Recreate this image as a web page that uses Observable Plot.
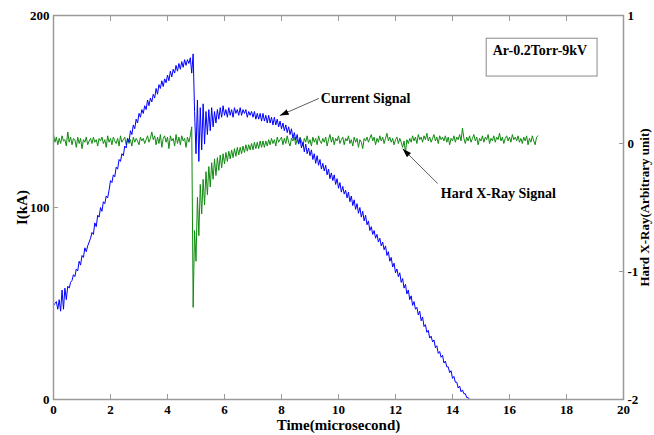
<!DOCTYPE html>
<html><head><meta charset="utf-8">
<script src="https://cdn.jsdelivr.net/npm/d3@7"></script>
<script src="https://cdn.jsdelivr.net/npm/@observablehq/plot@0.6"></script>
<style>body{margin:0;background:#fff}</style>
</head><body><div id="chart"></div>
<script>
// sampling step of both signals (microseconds)
const dt = 0.05;
const xTicks = [0, 2, 4, 6, 8, 10, 12, 14, 16, 18, 20];
const leftTicks = [0, 100, 200];
const rightTicks = [-2, -1, 0, 1];
const boxLabel = "Ar-0.2Torr-9kV";
const currentLabel = "Current Signal";
const xrayLabel = "Hard X-Ray Signal";

// Current signal I (kA), one row = 0.5 microsecond
const currentKA = [
  49, 50, 51, 47, 52, 46, 57, 47, 58, 52,
  59, 58, 61, 62, 65, 64, 68, 67, 72, 70,
  75, 74, 79, 77, 80, 82, 84, 87, 86, 92,
  90, 96, 95, 100, 98, 103, 102, 106, 105, 109,
  114, 113, 117, 116, 121, 120, 125, 124, 128, 127,
  132, 131, 136, 134, 140, 138, 143, 141, 146, 144,
  149, 147, 151, 149, 153, 151, 156, 153, 157, 155,
  159, 157, 162, 159, 164, 162, 166, 163, 167, 165,
  169, 166, 171, 168, 172, 170, 174, 171, 175, 172,
  176, 173, 177, 174, 177, 175, 178, 170, 180, 150,
  128, 156, 124, 152, 130, 154, 133, 150, 138, 151,
  140, 152, 142, 150, 144, 151, 146, 152, 147, 153,
  148, 151, 147, 152, 148, 151, 147, 152, 149, 151,
  148, 152, 148, 151, 149, 151, 147, 150, 148, 150,
  147, 150, 146, 149, 146, 149, 145, 149, 145, 148,
  144, 148, 144, 147, 143, 147, 143, 146, 142, 145,
  141, 144, 140, 143, 139, 142, 138, 141, 136, 139,
  135, 138, 133, 136, 131, 134, 129, 133, 128, 131,
  127, 130, 125, 128, 123, 127, 122, 125, 120, 123,
  119, 122, 117, 120, 115, 118, 114, 117, 112, 115,
  110, 113, 108, 111, 107, 109, 105, 108, 103, 106,
  101, 104, 99, 102, 97, 100, 95, 98, 93, 96,
  91, 93, 88, 90, 86, 88, 84, 86, 82, 84,
  80, 82, 78, 80, 75, 77, 72, 74, 69, 71,
  66, 68, 64, 66, 61, 63, 58, 60, 55, 57,
  52, 54, 49, 51, 47, 48, 44, 46, 41, 43,
  38, 39, 35, 36, 32, 33, 30, 31, 27, 28,
  24, 25, 22, 23, 19, 20, 17, 17, 14, 15,
  11, 12, 9, 9, 6, 7, 4, 5, 3, 3,
  1, 1, 0
];

// Hard X-ray signal (arbitrary unit), one row = 0.5 microsecond
const hardXRay = [
  0.07, 0.01, 0.05, -0.01, 0.04, 0.00, 0.06, 0.02, 0.03, -0.02,
  0.09, 0.01, 0.05, -0.01, 0.04, 0.03, -0.03, 0.05, 0.00, 0.04,
  -0.04, 0.03, 0.01, 0.05, -0.01, 0.02, 0.04, 0.00, 0.05, 0.01,
  0.03, -0.02, 0.04, 0.02, 0.05, 0.00, 0.03, -0.03, 0.06, 0.01,
  0.04, -0.01, 0.05, 0.02, 0.00, 0.04, -0.02, 0.06, 0.01, 0.03,
  0.05, -0.01, 0.04, 0.00, 0.03, -0.02, 0.05, 0.01, 0.04, 0.02,
  -0.01, 0.05, 0.02, 0.04, 0.00, 0.03, 0.06, 0.01, 0.04, 0.09,
  0.03, 0.06, -0.01, 0.05, 0.00, 0.07, -0.03, 0.04, 0.06, 0.01,
  0.05, -0.04, 0.06, 0.02, 0.04, -0.02, 0.07, 0.00, 0.05, -0.01,
  0.06, 0.02, 0.04, -0.03, 0.05, 0.01, 0.06, 0.13, -1.28, -0.68,
  -0.92, -0.42, -0.72, -0.32, -0.55, -0.28, -0.48, -0.22, -0.40, -0.18,
  -0.34, -0.15, -0.28, -0.12, -0.25, -0.11, -0.21, -0.09, -0.19, -0.08,
  -0.16, -0.07, -0.14, -0.06, -0.12, -0.05, -0.11, -0.04, -0.10, -0.03,
  -0.09, -0.03, -0.08, -0.02, -0.07, -0.01, -0.06, -0.01, -0.05, 0.00,
  -0.05, 0.01, -0.04, 0.01, -0.04, 0.02, -0.03, 0.02, -0.03, 0.02,
  -0.02, 0.03, -0.01, 0.04, 0.00, 0.03, -0.02, 0.05, 0.01, 0.03,
  0.05, -0.01, 0.04, 0.00, 0.06, 0.01, -0.02, 0.04, 0.02, 0.05,
  -0.01, 0.03, 0.00, 0.05, 0.02, -0.02, 0.04, 0.01, 0.06, 0.00,
  0.03, -0.02, 0.05, 0.01, 0.04, -0.01, 0.06, 0.02, 0.00, 0.04,
  0.01, 0.05, -0.02, 0.03, 0.07, 0.01, 0.05, -0.01, 0.04, 0.02,
  0.06, 0.00, 0.03, 0.05, -0.01, 0.04, 0.02, 0.06, 0.00, 0.03,
  -0.02, 0.05, 0.01, 0.04, -0.03, 0.03, 0.01, -0.04, 0.04, 0.02,
  0.05, 0.01, 0.04, 0.07, 0.02, 0.05, -0.01, 0.04, 0.01, 0.06,
  0.02, 0.05, 0.00, 0.04, 0.08, 0.02, 0.05, 0.01, 0.04, -0.01,
  0.03, 0.05, 0.00, 0.04, 0.01, -0.03, 0.02, -0.07, 0.03, 0.00,
  0.04, 0.01, 0.06, 0.02, 0.05, 0.00, 0.07, 0.03, 0.05, 0.01,
  0.06, 0.03, 0.08, 0.02, 0.05, 0.01, 0.04, 0.07, 0.02, 0.05,
  0.00, 0.06, 0.03, 0.05, 0.02, 0.06, 0.01, 0.05, -0.01, 0.04,
  0.02, 0.06, 0.01, 0.05, 0.03, 0.07, 0.02, 0.12, 0.04, 0.00,
  0.05, 0.02, 0.06, 0.01, 0.04, 0.07, 0.02, 0.05, -0.01, 0.04,
  0.02, 0.06, 0.01, 0.05, 0.03, 0.07, 0.00, 0.04, 0.02, 0.06,
  0.01, 0.05, 0.03, 0.08, 0.02, 0.05, 0.00, 0.04, 0.06, 0.02,
  0.05, 0.01, 0.07, 0.03, 0.05, 0.02, 0.06, 0.01, 0.04, 0.00,
  0.05, 0.02, 0.06, -0.01, 0.04, 0.01, 0.06, 0.02, -0.01, 0.05,
  0.06
];

// right axis [-2, 1] is drawn on the left axis [0, 200]
const rMin = -2, rMax = 1, lMax = 200;
const toLeft = v => (v - rMin) / (rMax - rMin) * lMax;
const toRight = k => Math.round(k / lMax * (rMax - rMin) + rMin);

const currentData = currentKA.map((v, i) => ({t: i * dt, v}));
const xrayData = hardXRay.map((v, i) => ({t: i * dt, v}));

const FONT = "'Liberation Serif', 'Times New Roman', serif";

function filledArrow(color, context) {
  const m = d3.create("svg:marker")
    .attr("viewBox", "0 -3 9 6")
    .attr("markerUnits", "userSpaceOnUse")
    .attr("markerWidth", 9)
    .attr("markerHeight", 6)
    .attr("refX", 9)
    .attr("refY", 0)
    .attr("orient", "auto");
  m.append("path").attr("d", "M0,-3L9,0L0,3Z").attr("fill", "#000").attr("stroke", "none");
  return m.node();
}

function build(marker) {
  return Plot.plot({
    width: 654,
    height: 435,
    marginLeft: 53,
    marginRight: 31,
    marginTop: 15,
    marginBottom: 36,
    style: {fontFamily: FONT, fontWeight: "bold", fontSize: "13px", background: "white", color: "black"},
    x: {domain: [0, 20]},
    y: {domain: [0, 200]},
    marks: [
      Plot.rect([boxLabel], {x1: 15.2, x2: 19.09, y1: 168.2, y2: 187.9, fill: "white", stroke: "#8a8a8a", strokeWidth: 1}),
      Plot.text([boxLabel], {x: 17.07, y: 182, text: d => d, fontSize: 14, fontWeight: "bold", fill: "black"}),
      Plot.line(xrayData, {x: "t", y: d => toLeft(d.v), stroke: "#108a10", strokeWidth: 1}),
      Plot.line(currentData, {x: "t", y: "v", stroke: "#0000ff", strokeWidth: 1}),
      Plot.frame({stroke: "#9a9a9a", strokeWidth: 1.5}),
      Plot.axisX(xTicks, {anchor: "bottom", tickSize: -5, tickPadding: 10, stroke: "#9a9a9a", fill: "black", fontSize: 13, fontWeight: "bold", label: null}),
      Plot.axisX(xTicks, {anchor: "top", tickSize: -5, stroke: "#9a9a9a", fill: "none", label: null}),
      Plot.axisY(leftTicks, {anchor: "left", tickSize: -5, tickPadding: 9, stroke: "#9a9a9a", fill: "black", fontSize: 13, fontWeight: "bold", label: null}),
      Plot.axisY(rightTicks.map(toLeft), {anchor: "right", tickSize: -5, tickPadding: 9, tickFormat: d => String(toRight(d)), stroke: "#9a9a9a", fill: "black", fontSize: 13, fontWeight: "bold", label: null}),
      Plot.text(["Time(microsecond)"], {frameAnchor: "bottom", textAnchor: "middle", lineAnchor: "middle", dy: 26, text: d => d, fontSize: 15, fontWeight: "bold", fill: "black"}),
      Plot.text(["I(kA)"], {frameAnchor: "left", textAnchor: "middle", lineAnchor: "middle", dx: -31, rotate: -90, text: d => d, fontSize: 15, fontWeight: "bold", fill: "black"}),
      Plot.text(["Hard X-Ray(Arbitrary unit)"], {frameAnchor: "right", textAnchor: "middle", lineAnchor: "middle", dx: 21, rotate: -90, text: d => d, fontSize: 13, fontWeight: "bold", fill: "black"}),
      Plot.link([currentLabel], {x1: 9.31, y1: 156.8, x2: 7.94, y2: 147.9, stroke: "#333", strokeWidth: 0.8, markerEnd: marker}),
      Plot.text([currentLabel], {x: 9.38, y: 156.6, text: d => d, textAnchor: "start", fontSize: 14, fontWeight: "bold", fill: "black"}),
      Plot.link([xrayLabel], {x1: 13.48, y1: 112.5, x2: 12.25, y2: 130.6, stroke: "#333", strokeWidth: 0.8, markerEnd: marker}),
      Plot.text([xrayLabel], {x: 13.59, y: 107.4, text: d => d, textAnchor: "start", fontSize: 14, fontWeight: "bold", fill: "black"})
    ]
  });
}

let chart;
try { chart = build(filledArrow); } catch (e) { chart = build("arrow"); }
document.getElementById("chart").append(chart);
</script>
</body></html>
